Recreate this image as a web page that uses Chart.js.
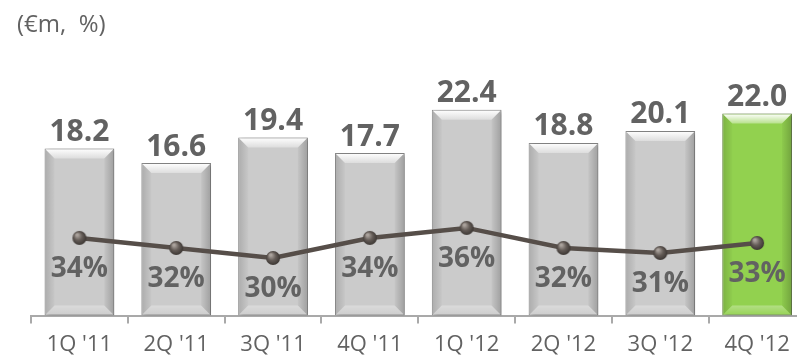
<!DOCTYPE html>
<html>
<head>
<meta charset="utf-8">
<script src="https://cdn.jsdelivr.net/npm/chart.js@4"></script>
<style>
  html, body { margin: 0; padding: 0; overflow: hidden; background: #fff; }
  #wrap { position: absolute; left: 0; top: 0; width: 817px; height: 366px; }
</style>
</head>
<body>
<div id="wrap"><canvas id="chart" width="817" height="366"></canvas></div>
<script>
var quarters = ["1Q '11", "2Q '11", "3Q '11", "4Q '11", "1Q '12", "2Q '12", "3Q '12", "4Q '12"];
var revenue = [18.2, 16.6, 19.4, 17.7, 22.4, 18.8, 20.1, 22.0];
var margin = [34, 32, 30, 34, 36, 32, 31, 33];

var FONT = "'Open Sans', 'DejaVu Sans', sans-serif";
var TEXT = "#626262";

// small shaded ball used as the line marker
function makeBall(r) {
  var c = document.createElement("canvas");
  c.width = c.height = r * 2 + 2;
  var g = c.getContext("2d");
  var grad = g.createRadialGradient(r * 0.8, r * 0.7, 1, r + 1, r + 1, r + 1);
  grad.addColorStop(0, "#aaa29c");
  grad.addColorStop(0.45, "#645c57");
  grad.addColorStop(1, "#332e2b");
  g.fillStyle = grad;
  g.beginPath();
  g.arc(r + 1, r + 1, r, 0, Math.PI * 2);
  g.fill();
  return c;
}
var ball = makeBall(7);

var barColors = revenue.map(function (v, i) { return i === revenue.length - 1 ? "#92d14f" : "#cbcbcb"; });
var barBorders = revenue.map(function (v, i) { return i === revenue.length - 1 ? "#6b8f45" : "#8d8d8d"; });

// bevel highlights on each bar, shadow under the bars
var bevel = {
  id: "bevel",
  beforeDatasetDraw: function (chart, args) {
    if (args.index !== 0) return;
    var ctx = chart.ctx;
    ctx.save();
    ctx.shadowColor = "rgba(0,0,0,0.35)";
    ctx.shadowBlur = 4;
    ctx.shadowOffsetX = 2;
    ctx.shadowOffsetY = 1;
  },
  afterDatasetDraw: function (chart, args) {
    if (args.index !== 0) return;
    var ctx = chart.ctx;
    ctx.restore();
    chart.getDatasetMeta(0).data.forEach(function (bar) {
      var l = bar.x - bar.width / 2 + 1, r = bar.x + bar.width / 2 - 1;
      var t = bar.y + 1, b = bar.base - 1, s = 9;
      ctx.save();
      var g = ctx.createLinearGradient(0, t, 0, t + s);
      g.addColorStop(0, "rgba(255,255,255,0.95)");
      g.addColorStop(1, "rgba(255,255,255,0.35)");
      ctx.fillStyle = g;
      ctx.beginPath();
      ctx.moveTo(l, t); ctx.lineTo(r, t); ctx.lineTo(r - s, t + s); ctx.lineTo(l + s, t + s);
      ctx.closePath(); ctx.fill();

      g = ctx.createLinearGradient(l, 0, l + s, 0);
      g.addColorStop(0, "rgba(0,0,0,0.14)");
      g.addColorStop(1, "rgba(0,0,0,0.02)");
      ctx.fillStyle = g;
      ctx.beginPath();
      ctx.moveTo(l, t); ctx.lineTo(l + s, t + s); ctx.lineTo(l + s, b - s); ctx.lineTo(l, b);
      ctx.closePath(); ctx.fill();

      g = ctx.createLinearGradient(r, 0, r - s, 0);
      g.addColorStop(0, "rgba(0,0,0,0.2)");
      g.addColorStop(1, "rgba(0,0,0,0.03)");
      ctx.fillStyle = g;
      ctx.beginPath();
      ctx.moveTo(r, t); ctx.lineTo(r - s, t + s); ctx.lineTo(r - s, b - s); ctx.lineTo(r, b);
      ctx.closePath(); ctx.fill();

      g = ctx.createLinearGradient(0, b, 0, b - s);
      g.addColorStop(0, "rgba(255,255,255,0.05)");
      g.addColorStop(1, "rgba(255,255,255,0.3)");
      ctx.fillStyle = g;
      ctx.beginPath();
      ctx.moveTo(l, b); ctx.lineTo(r, b); ctx.lineTo(r - s, b - s); ctx.lineTo(l + s, b - s);
      ctx.closePath(); ctx.fill();
      ctx.restore();
    });
  }
};

// value labels over bars, percentages under the line points, unit caption
var labels = {
  id: "labels",
  afterDatasetsDraw: function (chart) {
    var ctx = chart.ctx;
    ctx.save();
    ctx.fillStyle = TEXT;
    ctx.textAlign = "center";
    ctx.textBaseline = "middle";
    ctx.font = "bold 30px " + FONT;
    chart.getDatasetMeta(0).data.forEach(function (bar, i) {
      ctx.fillText(revenue[i].toFixed(1), bar.x, bar.y - 16);
    });
    ctx.font = "bold 28px " + FONT;
    chart.getDatasetMeta(1).data.forEach(function (pt, i) {
      ctx.fillText(margin[i] + "%", pt.x, pt.y + 31);
    });
    ctx.textAlign = "left";
    ctx.font = "24px " + FONT;
    ctx.fillText("(€m,  %)", 17, 25);
    ctx.restore();
  }
};

var ctx = document.getElementById("chart").getContext("2d");

var chart = new Chart(ctx, {
  type: "bar",
  data: {
    labels: quarters,
    datasets: [
      {
        label: "Revenue",
        data: revenue,
        yAxisID: "y",
        backgroundColor: barColors,
        borderColor: barBorders,
        borderWidth: 1,
        borderSkipped: false,
        categoryPercentage: 1,
        barPercentage: 0.72,
        order: 2,
      },
      {
        type: "line",
        label: "Margin",
        data: margin,
        yAxisID: "y2",
        borderColor: "#564e49",
        borderWidth: 4.5,
        tension: 0,
        pointStyle: ball,
        pointRadius: 7,
        order: 1,
      },
    ],
  },
  options: {
    responsive: false,
    animation: false,
    layout: { padding: { left: 31, top: 40, right: 0, bottom: 0 } },
    plugins: {
      legend: { display: false },
      tooltip: { enabled: false },
    },
    scales: {
      x: {
        grid: {
          drawOnChartArea: false,
          drawTicks: true,
          tickLength: 8,
          color: "#a9a9a9",
          lineWidth: 2,
        },
        border: { display: true, color: "#a9a9a9", width: 2 },
        ticks: {
          color: TEXT,
          padding: 8,
          font: { family: FONT, size: 22 },
        },
      },
      y: { display: false, min: 0, max: 30 },
      y2: { display: false, min: 18.5, max: 73.5 },
    },
  },
  plugins: [bevel, labels],
});
</script>
</body>
</html>
